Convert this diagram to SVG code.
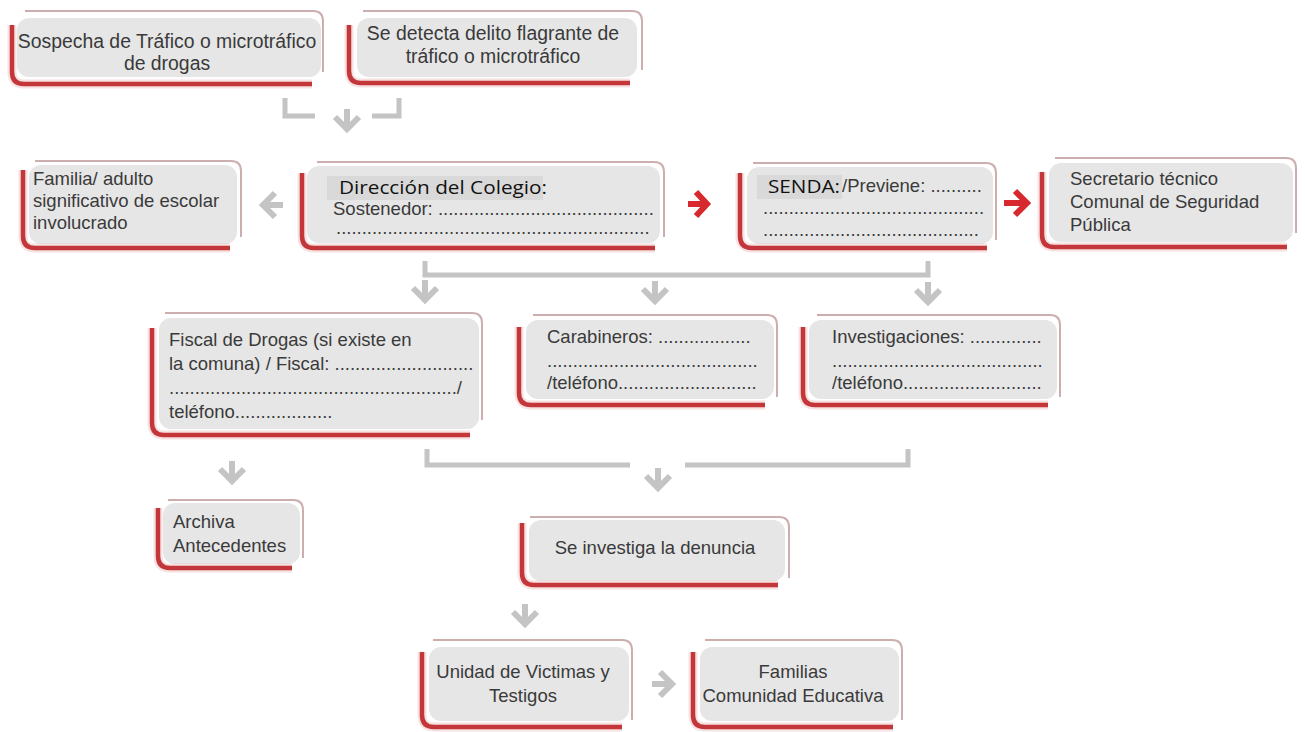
<svg xmlns="http://www.w3.org/2000/svg" xmlns:xlink="http://www.w3.org/1999/xlink" width="1305" height="732" viewBox="0 0 1305 732">
<style>
.top{fill:none;stroke:#cdaeae;stroke-width:2}
.red{fill:none;stroke:#c3363a;stroke-width:4.5}
.glow{fill:none;stroke:#e9a9aa;stroke-width:9;opacity:0.35}
.box{fill:#e6e6e6}
.t{font-family:"Liberation Sans",Arial,sans-serif;font-size:18.5px;fill:#3a3a3a}
.big{font-size:19.4px}
.c{text-anchor:middle}
.con{fill:none;stroke:#c4c4c4;stroke-width:5}
.arr{fill:none;stroke:#c4c4c4;stroke-width:6}
.rarr{fill:none;stroke:#d7282d;stroke-width:6}
.patch{fill:#d9d9d9}
.ov{font-family:"Open Sans","Noto Sans",sans-serif;font-size:19px;fill:#111}
</style>
<defs>
<path id="ad" d="M0,-11 V9 M-12,-3 L0,9 L12,-3"/>
</defs>
<g id="connectors">
<path class="con" d="M285,98 V116 H315"/>
<path class="con" d="M372,116 H399 V98"/>
<use href="#ad" class="arr" transform="translate(347,120)"/>
<use href="#ad" class="arr" transform="translate(272,205) rotate(90)"/>
<path class="rarr" d="M688,204 H706 M696,192 L707,204 L696,216"/>
<path class="rarr" d="M1004,203 H1026 M1015,191 L1027,203 L1015,215"/>
<path class="con" d="M425,261 V275 H928 V261"/>
<use href="#ad" class="arr" transform="translate(425,291)"/>
<use href="#ad" class="arr" transform="translate(655,292)"/>
<use href="#ad" class="arr" transform="translate(928,293)"/>
<use href="#ad" class="arr" transform="translate(232,472)"/>
<path class="con" d="M427,449 V465 H630"/>
<path class="con" d="M685,465 H908 V449"/>
<use href="#ad" class="arr" transform="translate(658,479)"/>
<use href="#ad" class="arr" transform="translate(525,615)"/>
<use href="#ad" class="arr" transform="translate(663,684) rotate(-90)"/>
</g>
<g id="n1">
<rect class="box" x="17" y="18" width="304" height="59" rx="12"/>
<path class="top" d="M25,11 H313 Q323,11 323,21 V72"/>
<path class="glow" d="M12,25 V72 Q12,84 24,84 H312"/>
<path class="red" d="M12,25 V72 Q12,84 24,84 H312"/>
<text class="t big c" x="167" y="48">Sospecha de Tráfico o microtráfico</text>
<text class="t big c" x="167" y="70">de drogas</text>
</g>
<g id="n2">
<rect class="box" x="357" y="18" width="280" height="59" rx="12"/>
<path class="top" d="M363,11 H632 Q642,11 642,21 V70"/>
<path class="glow" d="M349,25 V71 Q349,83 361,83 H630"/>
<path class="red" d="M349,25 V71 Q349,83 361,83 H630"/>
<text class="t big c" x="493" y="40">Se detecta delito flagrante de</text>
<text class="t big c" x="493" y="63">tráfico o microtráfico</text>
</g>
<g id="n3">
<rect class="box" x="29" y="165" width="208" height="79" rx="12"/>
<path class="top" d="M35,161 H231 Q241,161 241,171 V237"/>
<path class="glow" d="M23,170 V236 Q23,248 35,248 H230"/>
<path class="red" d="M23,170 V236 Q23,248 35,248 H230"/>
<text class="t" x="33" y="185">Familia/ adulto</text>
<text class="t" x="33" y="207">significativo de escolar</text>
<text class="t" x="33" y="229">involucrado</text>
</g>
<g id="n4">
<rect class="box" x="307" y="166" width="353" height="77" rx="12"/>
<path class="top" d="M317,162 H654 Q664,162 664,172 V237"/>
<path class="glow" d="M302,173 V236 Q302,248 314,248 H655"/>
<path class="red" d="M302,173 V236 Q302,248 314,248 H655"/>
<text class="t" x="333" y="215">Sostenedor: ..........................................</text>
<text class="t" x="336" y="234">.............................................................</text>
<rect class="patch" x="327" y="176" width="216" height="24"/>
<text class="ov" x="339" y="194" textLength="208" lengthAdjust="spacingAndGlyphs">Dirección del Colegio:</text>
</g>
<g id="n5">
<rect class="box" x="747" y="167" width="246" height="77" rx="12"/>
<path class="top" d="M753,163 H986 Q996,163 996,173 V240"/>
<path class="glow" d="M740,173 V236 Q740,248 752,248 H987"/>
<path class="red" d="M740,173 V236 Q740,248 752,248 H987"/>
<text class="t" x="842" y="192">/Previene: ..........</text>
<text class="t" x="763" y="214">...........................................</text>
<text class="t" x="763" y="236">..........................................</text>
<rect class="patch" x="757" y="175" width="85" height="24"/>
<text class="ov" x="768" y="193" textLength="72" lengthAdjust="spacingAndGlyphs">SENDA:</text>
</g>
<g id="n6">
<rect class="box" x="1049" y="163" width="244" height="79" rx="12"/>
<path class="top" d="M1055,158 H1286 Q1296,158 1296,168 V233"/>
<path class="glow" d="M1042,172 V235 Q1042,247 1054,247 H1287"/>
<path class="red" d="M1042,172 V235 Q1042,247 1054,247 H1287"/>
<text class="t" x="1070" y="185">Secretario técnico</text>
<text class="t" x="1070" y="208">Comunal de Seguridad</text>
<text class="t" x="1070" y="231">Pública</text>
</g>
<g id="n7">
<rect class="box" x="159" y="318" width="320" height="111" rx="12"/>
<path class="top" d="M165,313 H472 Q482,313 482,323 V420"/>
<path class="glow" d="M152,328 V423 Q152,435 164,435 H470"/>
<path class="red" d="M152,328 V423 Q152,435 164,435 H470"/>
<text class="t" x="169" y="346">Fiscal de Drogas (si existe en</text>
<text class="t" x="169" y="370">la comuna) / Fiscal: ...........................</text>
<text class="t" x="169" y="394">......................................................../</text>
<text class="t" x="169" y="418">teléfono...................</text>
</g>
<g id="n8">
<rect class="box" x="526" y="320" width="248" height="79" rx="12"/>
<path class="top" d="M533,315 H767 Q777,315 777,325 V397"/>
<path class="glow" d="M519,327 V393 Q519,405 531,405 H765"/>
<path class="red" d="M519,327 V393 Q519,405 531,405 H765"/>
<text class="t" x="547" y="343">Carabineros: ..................</text>
<text class="t" x="547" y="367">.........................................</text>
<text class="t" x="547" y="389">/teléfono...........................</text>
</g>
<g id="n9">
<rect class="box" x="809" y="320" width="248" height="79" rx="12"/>
<path class="top" d="M817,315 H1050 Q1060,315 1060,325 V397"/>
<path class="glow" d="M803,327 V393 Q803,405 815,405 H1048"/>
<path class="red" d="M803,327 V393 Q803,405 815,405 H1048"/>
<text class="t" x="832" y="343">Investigaciones: ..............</text>
<text class="t" x="832" y="367">.........................................</text>
<text class="t" x="832" y="389">/teléfono...........................</text>
</g>
<g id="n10">
<rect class="box" x="163" y="503" width="137" height="61" rx="12"/>
<path class="top" d="M168,500 H293 Q303,500 303,510 V558"/>
<path class="glow" d="M158,508 V556 Q158,568 170,568 H292"/>
<path class="red" d="M158,508 V556 Q158,568 170,568 H292"/>
<text class="t" x="173" y="528">Archiva</text>
<text class="t" x="173" y="552">Antecedentes</text>
</g>
<g id="n11">
<rect class="box" x="529" y="520" width="256" height="61" rx="12"/>
<path class="top" d="M530,517 H779 Q789,517 789,527 V578"/>
<path class="glow" d="M522,523 V573 Q522,585 534,585 H778"/>
<path class="red" d="M522,523 V573 Q522,585 534,585 H778"/>
<text class="t c" x="655" y="554">Se investiga la denuncia</text>
</g>
<g id="n12">
<rect class="box" x="429" y="647" width="200" height="74" rx="12"/>
<path class="top" d="M433,640 H622 Q632,640 632,650 V720"/>
<path class="glow" d="M422,652 V715 Q422,727 434,727 H622"/>
<path class="red" d="M422,652 V715 Q422,727 434,727 H622"/>
<text class="t c" x="523" y="678">Unidad de Victimas y</text>
<text class="t c" x="523" y="702">Testigos</text>
</g>
<g id="n13">
<rect class="box" x="700" y="647" width="199" height="74" rx="12"/>
<path class="top" d="M705,640 H892 Q902,640 902,650 V720"/>
<path class="glow" d="M693,652 V715 Q693,727 705,727 H893"/>
<path class="red" d="M693,652 V715 Q693,727 705,727 H893"/>
<text class="t c" x="793" y="678">Familias</text>
<text class="t c" x="793" y="702">Comunidad Educativa</text>
</g>
</svg>
